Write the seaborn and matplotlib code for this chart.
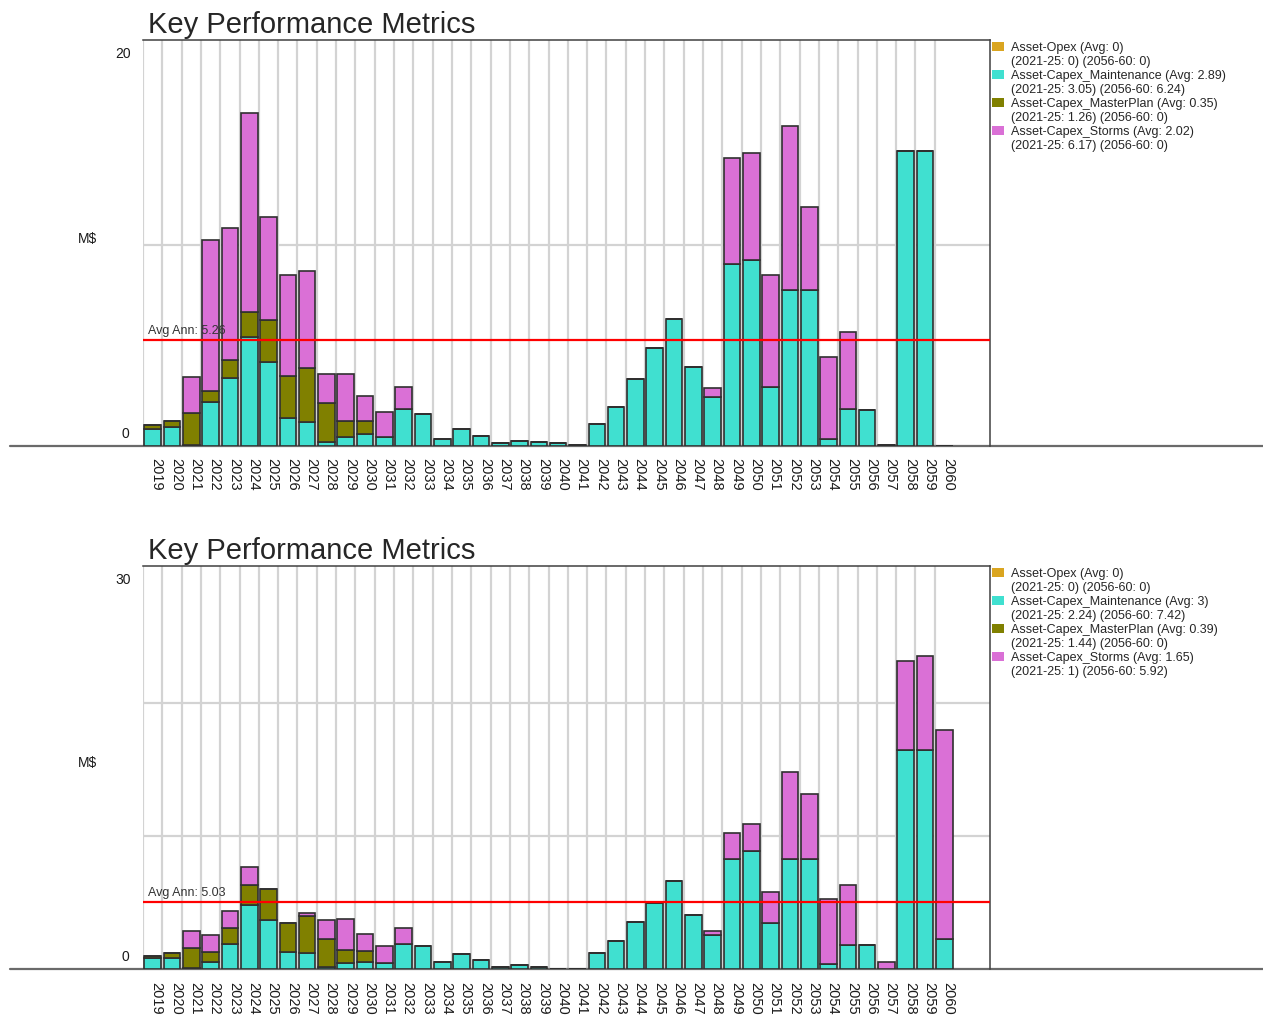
import matplotlib
matplotlib.use("Agg")
import matplotlib.pyplot as plt
import matplotlib.transforms as mtransforms
from matplotlib.patches import Patch
import pandas as pd
import seaborn as sns

sns.set_style("white")
plt.rcParams["font.family"] = ["Liberation Sans", "DejaVu Sans"]

years = list(range(2019, 2061))
series = ["Asset-Opex", "Asset-Capex_Maintenance", "Asset-Capex_MasterPlan", "Asset-Capex_Storms"]
colors = ["#DAA520", "#40E0D0", "#808000", "#DA70D6"]

# ---- Scenario A (upper panel), M$ per year 2019..2060 ----
a_opex = [0, 0, 0, 0, 0, 0, 0, 0, 0, 0, 0, 0, 0, 0,
          0, 0, 0, 0, 0, 0, 0, 0, 0, 0, 0, 0, 0, 0,
          0, 0, 0, 0, 0, 0, 0, 0, 0, 0, 0, 0, 0, 0]
a_maint = [0.85, 0.96, 0.05, 2.17, 3.37, 5.41, 4.19, 1.38, 1.21, 0.18, 0.46, 0.60, 0.46, 1.86,
           1.58, 0.33, 0.83, 0.48, 0.13, 0.27, 0.20, 0.15, 0.06, 1.09, 1.92, 3.32, 4.87, 6.32,
           3.91, 2.45, 9.05, 9.25, 2.95, 7.76, 7.76, 0.33, 1.84, 1.77, 0.05, 14.67, 14.69, 0]
a_master = [0.18, 0.27, 1.57, 0.57, 0.89, 1.26, 2.06, 2.12, 2.65, 1.94, 0.77, 0.63, 0, 0,
            0, 0, 0, 0, 0, 0, 0, 0, 0, 0, 0, 0, 0, 0,
            0, 0, 0, 0, 0, 0, 0, 0, 0, 0, 0, 0, 0, 0]
a_storms = [0, 0, 1.80, 7.51, 6.58, 9.88, 5.14, 5.01, 4.86, 1.44, 2.33, 1.24, 1.25, 1.09,
            0, 0, 0, 0, 0, 0, 0, 0, 0, 0, 0, 0, 0, 0,
            0, 0.42, 5.29, 5.31, 5.56, 8.17, 4.11, 4.11, 3.85, 0, 0, 0, 0, 0]
a_avg_annual = 5.26
a_series_avg = [0, 2.89, 0.35, 2.02]
a_avg_2021_25 = [0, 3.05, 1.26, 6.17]
a_avg_2056_60 = [0, 6.24, 0, 0]
a_axis_top = 20.2
a_top_label = 20
a_grid = [10]

# ---- Scenario B (lower panel), M$ per year 2019..2060 ----
b_opex = [0, 0, 0, 0, 0, 0, 0, 0, 0, 0, 0, 0, 0, 0,
          0, 0, 0, 0, 0, 0, 0, 0, 0, 0, 0, 0, 0, 0,
          0, 0, 0, 0, 0, 0, 0, 0, 0, 0, 0, 0, 0, 0]
b_maint = [0.88, 0.88, 0.08, 0.55, 1.93, 4.85, 3.72, 1.31, 1.21, 0.20, 0.50, 0.58, 0.50, 1.93,
           1.73, 0.58, 1.13, 0.68, 0.20, 0.30, 0.20, 0.06, 0.06, 1.23, 2.16, 3.52, 4.97, 6.63,
           4.12, 2.56, 8.29, 8.92, 3.49, 8.29, 8.29, 0.40, 1.86, 1.83, 0.06, 16.5, 16.5, 2.26]
b_master = [0.15, 0.33, 1.55, 0.78, 1.19, 1.46, 2.29, 2.18, 2.81, 2.06, 0.96, 0.83, 0, 0,
            0, 0, 0, 0, 0, 0, 0, 0, 0, 0, 0, 0, 0, 0,
            0, 0, 0, 0, 0, 0, 0, 0, 0, 0, 0, 0, 0, 0]
b_storms = [0, 0, 1.26, 1.23, 1.23, 1.38, 0, 0, 0.20, 1.46, 2.36, 1.25, 1.26, 1.19,
            0, 0, 0, 0, 0, 0, 0, 0, 0, 0, 0, 0, 0, 0,
            0, 0.33, 1.96, 1.98, 2.29, 6.53, 4.88, 4.88, 4.45, 0, 0.52, 6.66, 7.09, 15.7]
b_avg_annual = 5.03
b_series_avg = [0, 3, 0.39, 1.65]
b_avg_2021_25 = [0, 2.24, 1.44, 1]
b_avg_2056_60 = [0, 7.42, 0, 5.92]
b_axis_top = 30.35
b_top_label = 30
b_grid = [10, 20]


def draw_panel(fig, ax, values, axis_top, top_label, grid_vals, avg_annual,
               series_avg, avg_early, avg_late):
    rows = []
    for name, vals in zip(series, values):
        for yr, v in zip(years, vals):
            rows.append({"Year": yr, "Series": name, "Value": v})
    df = pd.DataFrame(rows)

    # seaborn stacks the last hue level at the bottom, so feed the order reversed
    sns.histplot(data=df, x="Year", weights="Value", hue="Series", hue_order=series[::-1],
                 palette=dict(zip(series, colors)), multiple="stack", discrete=True,
                 shrink=0.86, alpha=1, edgecolor="#303030", linewidth=1.2,
                 legend=False, ax=ax, zorder=2)

    ax.set_xlim(years[0] - 0.5, years[0] - 0.5 + 43.86)
    ax.set_ylim(0, axis_top)

    # category labels and separators
    ax.set_xticks(years)
    ax.set_xticklabels([str(y) for y in years], rotation=-90, fontsize=10.5, color="#1a1a1a")
    ax.set_xticks([y - 0.5 for y in years], minor=True)
    ax.tick_params(axis="x", which="both", length=0, pad=9)
    shift = mtransforms.ScaledTranslation(4 / 100, 0, fig.dpi_scale_trans)
    for lbl in ax.get_xticklabels():
        lbl.set_transform(lbl.get_transform() + shift)

    ax.set_yticks(grid_vals)
    ax.set_yticklabels([])
    ax.tick_params(axis="y", length=0)
    ax.set_axisbelow(True)
    ax.grid(False)
    ax.grid(axis="x", which="minor", color="#d3d3d3", lw=1.6)
    ax.grid(axis="y", which="major", color="#d3d3d3", lw=1.6)

    for s in ["left", "bottom"]:
        ax.spines[s].set_visible(False)
    for s in ["top", "right"]:
        ax.spines[s].set_visible(True)
        ax.spines[s].set_color("#404040")
        ax.spines[s].set_linewidth(1.1)

    # long base line running under the axis
    ax.axhline(0, xmin=-0.157, xmax=1.33, color="#6a6a6a", lw=1.6, clip_on=False, zorder=1.5)

    # average annual line
    ax.axhline(avg_annual, color="red", lw=1.6, zorder=4)
    ax.annotate(f"Avg Ann: {avg_annual:g}", xy=(0, avg_annual),
                xycoords=("axes fraction", "data"), xytext=(5, 3),
                textcoords="offset pixels", fontsize=9, color="#333333",
                va="bottom", ha="left", zorder=5)

    # value axis labels
    ax.annotate(f"{top_label:g}", xy=(0, 1), xycoords="axes fraction", xytext=(-12, -14),
                textcoords="offset pixels", ha="right", va="center", fontsize=10, color="#1a1a1a")
    ax.annotate("0", xy=(0, 0), xycoords="axes fraction", xytext=(-14, 12),
                textcoords="offset pixels", ha="right", va="center", fontsize=10, color="#1a1a1a")
    ax.set_xlabel("")
    ax.set_ylabel(r"M\$", rotation=0, fontsize=10, ha="center", va="center", color="#1a1a1a")
    ax.yaxis.set_label_coords(-0.065, 0.51)

    title = ax.set_title("Key Performance Metrics", loc="left", fontsize=21, pad=5)
    title.set_x(0.006)

    handles, labels = [], []
    for name, c, av, e, l in zip(series, colors, series_avg, avg_early, avg_late):
        handles.append(Patch(facecolor=c, edgecolor="none"))
        labels.append(f"{name} (Avg: {av:g})")
        handles.append(Patch(facecolor="none", edgecolor="none"))
        labels.append(f"(2021-25: {e:g}) (2056-60: {l:g})")
    leg = ax.legend(handles, labels, loc="upper left", bbox_to_anchor=(1.0, 1.0),
                    frameon=False, fontsize=9, labelspacing=0.15, handlelength=0.96,
                    handleheight=0.8, handletextpad=0.55, borderpad=0.15,
                    borderaxespad=0.0)
    for t in leg.get_texts():
        t.set_color("#262626")


W, H = 1263, 1017
fig = plt.figure(figsize=(W / 100, H / 100), dpi=100)
ax1 = fig.add_axes([143 / W, 1 - 446 / H, 847 / W, 406 / H])
ax2 = fig.add_axes([143 / W, 1 - 969.3 / H, 847 / W, 403.6 / H])

draw_panel(fig, ax1, [a_opex, a_maint, a_master, a_storms], a_axis_top, a_top_label, a_grid,
           a_avg_annual, a_series_avg, a_avg_2021_25, a_avg_2056_60)
draw_panel(fig, ax2, [b_opex, b_maint, b_master, b_storms], b_axis_top, b_top_label, b_grid,
           b_avg_annual, b_series_avg, b_avg_2021_25, b_avg_2056_60)

fig.savefig("out.png", dpi=100)
